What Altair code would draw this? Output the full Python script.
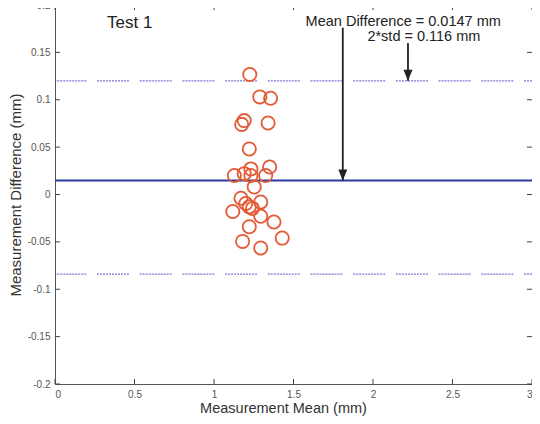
import altair as alt
import pandas as pd

# Data
x_mean = [1.225, 1.288, 1.356, 1.19, 1.174, 1.34, 1.222,
          1.35, 1.232, 1.128, 1.19, 1.232, 1.325, 1.253, 1.17, 1.294,
          1.20, 1.222, 1.242, 1.118, 1.294, 1.377, 1.222, 1.429, 1.18, 1.294]
y_diff = [0.1267, 0.103, 0.1016, 0.078, 0.074, 0.0754, 0.048,
          0.029, 0.027, 0.020, 0.022, 0.020, 0.020, 0.008, -0.004, -0.008,
          -0.0095, -0.013, -0.0147, -0.018, -0.023, -0.029, -0.034, -0.046, -0.0495, -0.0565]

mean_diff = [0.0147]
limits = [0.12, -0.084]

x_ticks = [0, 0.5, 1, 1.5, 2, 2.5, 3]
y_ticks = [-0.2, -0.15, -0.1, -0.05, 0, 0.05, 0.1, 0.15, 0.2]

ann_labels = ["Mean Difference = 0.0147 mm", "2*std = 0.116 mm", "Test 1"]
ann_x = [2.19, 2.32, 0.47]
ann_y = [0.182, 0.1665, 0.181]
ann_size = [14.5, 14.5, 17]

arrow_x = [1.81, 2.22]
arrow_top = [0.176, 0.160]
arrow_tip = [0.0147, 0.12]

W, H = 477, 379
FONT = "Liberation Sans"

pts = pd.DataFrame({"x": x_mean, "y": y_diff})
mean_df = pd.DataFrame({"y": mean_diff})
lim_df = pd.DataFrame({"y": limits})
xt_df = pd.DataFrame({"x": x_ticks})
yt_df = pd.DataFrame({"y": y_ticks})
ann_df = pd.DataFrame({"x": ann_x, "y": ann_y, "label": ann_labels, "size": ann_size})
arr_df = pd.DataFrame({"x": arrow_x, "y": arrow_top, "y2": arrow_tip})

x_scale = alt.Scale(domain=[0, 3], nice=False, zero=False)
y_scale = alt.Scale(domain=[-0.2, 0.2], nice=False, zero=False)

x_axis = alt.Axis(values=x_ticks, ticks=False, domain=False, grid=False,
                  labelExpr="'' + datum.value", labelFont=FONT, labelFontSize=10,
                  labelColor="#555", labelPadding=5,
                  title="Measurement Mean (mm)", titleFont=FONT, titleFontSize=14.5,
                  titleFontWeight="normal", titleColor="#333", titleX=228, titleY=17)
y_axis = alt.Axis(values=y_ticks, ticks=False, domain=False, grid=False,
                  labelExpr="'' + datum.value", labelFont=FONT, labelFontSize=10,
                  labelColor="#555", labelPadding=5,
                  title="Measurement Difference (mm)", titleFont=FONT, titleFontSize=15,
                  titleFontWeight="normal", titleColor="#333", titleX=-40, titleY=H / 2,
                  titleBaseline="middle", titleAngle=270)

X = alt.X("x:Q", scale=x_scale, axis=x_axis)
Y = alt.Y("y:Q", scale=y_scale, axis=y_axis)

points = alt.Chart(pts).mark_point(shape="circle", filled=False, color="#e35a35",
                                   size=175, strokeWidth=1.8, opacity=1).encode(x=X, y=Y)

dot_dash = [2, 1] * 10 + [2, 10.7]
limit_lines = alt.Chart(lim_df).mark_rule(color="#4a4ac4", strokeWidth=1.3,
                                          strokeDash=dot_dash, strokeDashOffset=24,
                                          opacity=0.75).encode(y=Y)

mean_line = alt.Chart(mean_df).mark_rule(color="#2b3aa0", strokeWidth=2).encode(y=Y)

shafts = alt.Chart(arr_df).mark_rule(color="#222", strokeWidth=1.8).encode(
    x=X, y=Y, y2="y2:Q")
heads = alt.Chart(arr_df).mark_point(shape="M-0.82,-2L0.82,-2L0,0Z", filled=True,
                                     color="#222", size=121, opacity=1).encode(
    x=X, y=alt.Y("y2:Q", scale=y_scale, axis=y_axis))

texts = alt.Chart(ann_df).mark_text(font=FONT, color="#222", align="center",
                                    baseline="middle").encode(
    x=X, y=Y, text="label:N", size=alt.Size("size:Q", scale=None, legend=None))

yt_left = alt.Chart(yt_df).mark_rule(color="#444", strokeWidth=1).encode(
    y=Y, x=alt.value(0), x2=alt.value(5))
yt_right = alt.Chart(yt_df).mark_rule(color="#444", strokeWidth=1).encode(
    y=Y, x=alt.value(W - 5), x2=alt.value(W))
xt_bottom = alt.Chart(xt_df).mark_rule(color="#444", strokeWidth=1).encode(
    x=X, y=alt.value(H - 5), y2=alt.value(H))
xt_top = alt.Chart(xt_df).mark_rule(color="#444", strokeWidth=1).encode(
    x=X, y=alt.value(0), y2=alt.value(5))

chart = alt.layer(
    limit_lines, mean_line, points, shafts, heads, texts,
    yt_left, yt_right, xt_bottom, xt_top
).properties(
    width=W, height=H,
    autosize=alt.AutoSizeParams(type="none"),
    padding={"left": 47, "right": 0, "top": -3, "bottom": 32},
    background="white",
).configure_view(stroke="#555", strokeWidth=1)

chart.save("out.html", embed_options={"renderer": "svg", "actions": False})
